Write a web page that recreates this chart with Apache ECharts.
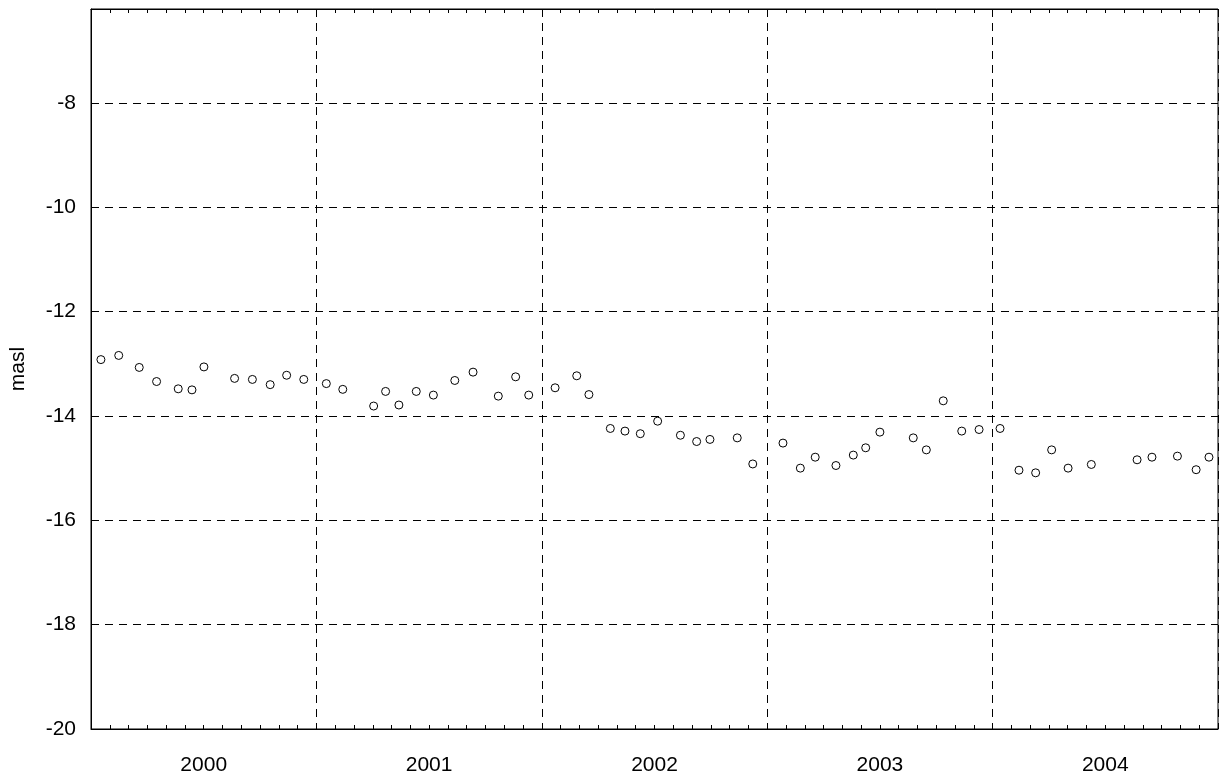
<!DOCTYPE html>
<html>
<head>
<meta charset="utf-8">
<script src="https://cdn.jsdelivr.net/npm/echarts@6/dist/echarts.min.js"></script>
<style>
html,body{margin:0;padding:0;background:#fff;}
#chart{width:1220px;height:778px;}
</style>
</head>
<body>
<div id="chart"></div>
<script>
// Sample dates as decimal years
var sampleDates = [
  2000.044, 2000.123, 2000.214, 2000.291, 2000.387, 2000.448, 2000.501, 2000.637, 2000.716, 2000.795, 2000.868, 2000.944,
  2001.044, 2001.117, 2001.254, 2001.307, 2001.366, 2001.443, 2001.519, 2001.614, 2001.695, 2001.807, 2001.884, 2001.942,
  2002.059, 2002.155, 2002.209, 2002.304, 2002.369, 2002.437, 2002.514, 2002.615, 2002.687, 2002.746, 2002.867, 2002.936,
  2003.070, 2003.147, 2003.213, 2003.305, 2003.382, 2003.437, 2003.500, 2003.648, 2003.706, 2003.781, 2003.863, 2003.940,
  2004.033, 2004.117, 2004.191, 2004.262, 2004.335, 2004.438, 2004.641, 2004.707, 2004.820, 2004.903, 2004.960
];
// Water level values (masl)
var levels = [
  -12.92, -12.84, -13.07, -13.34, -13.48, -13.50, -13.06, -13.28, -13.30, -13.40, -13.22, -13.30,
  -13.38, -13.49, -13.81, -13.53, -13.79, -13.53, -13.60, -13.32, -13.16, -13.62, -13.25, -13.60,
  -13.46, -13.23, -13.59, -14.24, -14.29, -14.34, -14.10, -14.37, -14.49, -14.45, -14.42, -14.92,
  -14.52, -15.00, -14.79, -14.95, -14.75, -14.61, -14.31, -14.42, -14.65, -13.71, -14.29, -14.26,
  -14.24, -15.04, -15.09, -14.65, -15.00, -14.93, -14.84, -14.79, -14.77, -15.03, -14.79
];
var yearLabels = ['2000', '2001', '2002', '2003', '2004'];
var yAxisName = 'masl';

var points = sampleDates.map(function (d, i) { return [d, levels[i]]; });

var FONT = 'Liberation Sans, Arial, Helvetica, sans-serif';
var dashed = { color: '#000', width: 1, type: [8, 6] };

var chart = echarts.init(document.getElementById('chart'));
chart.setOption({
  animation: false,
  backgroundColor: '#fff',
  grid: { left: 91, right: 2, top: 9, bottom: 49, show: true, borderColor: '#000', borderWidth: 1, backgroundColor: 'transparent' },
  xAxis: [
    {
      type: 'value', min: 2000, max: 2005, interval: 1, position: 'bottom',
      axisLine: { show: true, lineStyle: { color: '#000', width: 1 } },
      axisTick: { show: true, inside: true, length: 5, lineStyle: { color: '#000' } },
      minorTick: { show: true, splitNumber: 12, length: 4, lineStyle: { color: '#000' } },
      axisLabel: { show: false },
      splitLine: { show: true, lineStyle: dashed }
    },
    {
      type: 'value', min: 2000, max: 2005, interval: 1, position: 'top',
      axisLine: { show: true, lineStyle: { color: '#000', width: 1 } },
      axisTick: { show: true, inside: true, length: 5, lineStyle: { color: '#000' } },
      minorTick: { show: true, splitNumber: 12, length: 4, lineStyle: { color: '#000' } },
      axisLabel: { show: false },
      splitLine: { show: false }
    },
    {
      type: 'category', data: yearLabels, position: 'bottom', boundaryGap: true,
      axisLine: { show: false }, axisTick: { show: false }, splitLine: { show: false },
      axisLabel: { show: true, color: '#000', fontSize: 21, fontFamily: FONT, margin: 26 }
    }
  ],
  yAxis: [
    {
      type: 'value', min: -20, max: -6.2, interval: 2,
      name: yAxisName, nameLocation: 'middle', nameRotate: 90, nameGap: 62,
      nameTextStyle: { color: '#000', fontSize: 21, fontFamily: FONT },
      axisLine: { show: true, lineStyle: { color: '#000', width: 1 } },
      axisTick: { show: true, inside: true, length: 6, lineStyle: { color: '#000' } },
      axisLabel: { color: '#000', fontSize: 21, fontFamily: FONT, margin: 15, showMaxLabel: false },
      splitLine: { show: true, lineStyle: dashed }
    }
  ],
  series: [
    {
      type: 'scatter', xAxisIndex: 0, yAxisIndex: 0,
      data: points,
      symbol: 'circle', symbolSize: 8,
      itemStyle: { color: '#fff', borderColor: '#000', borderWidth: 1, opacity: 1 }
    }
  ]
});
</script>
</body>
</html>
